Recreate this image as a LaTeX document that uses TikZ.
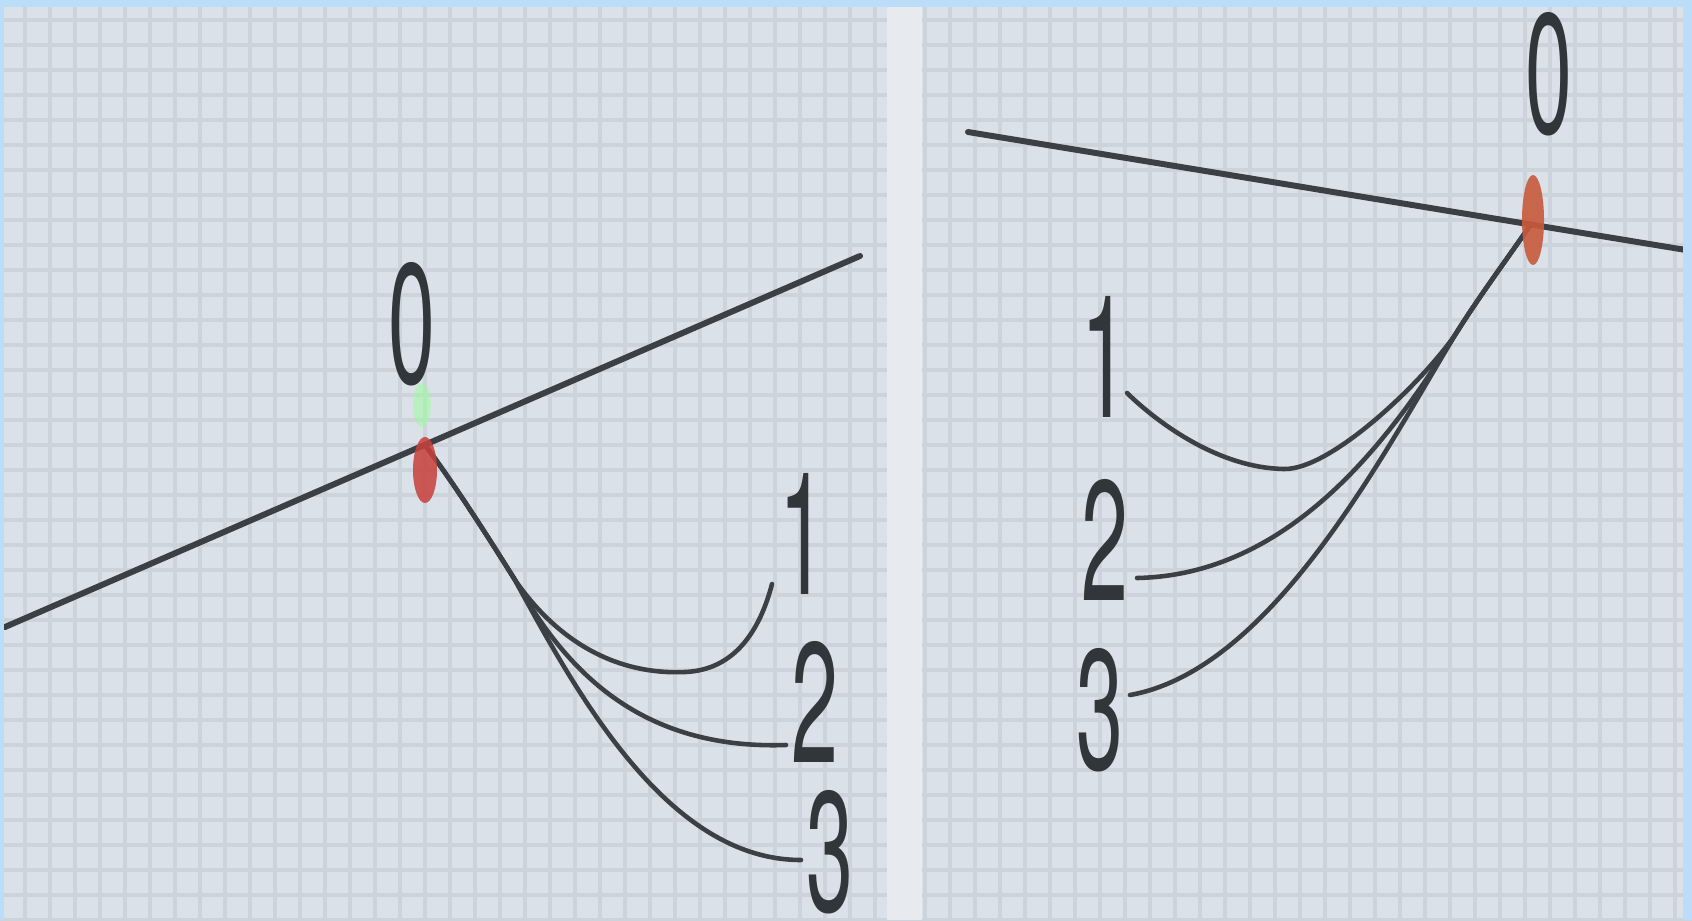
\documentclass[tikz,border=0pt]{standalone}
\usepackage{fontspec}
\setmainfont{TeX Gyre Heros}
\definecolor{paper}{HTML}{DBE1E8}
\definecolor{gridline}{HTML}{CDD3DB}
\definecolor{frame}{HTML}{BCDDF8}
\definecolor{divider}{HTML}{E7EBEF}
\definecolor{ink}{HTML}{3A4046}
\definecolor{markL}{HTML}{C8403A}
\definecolor{markR}{HTML}{C85A3C}

\begin{document}
\begin{tikzpicture}[
    axis/.style={draw=ink, line width=1.7pt, line cap=round},
    curve/.style={draw=ink, line width=1.3pt, line cap=round},
    digit/.style={font=\fontsize{30}{30}\selectfont, text=ink!85!black, xscale=0.8, yscale=1.62, inner sep=0pt}
]
\useasboundingbox (0,0) rectangle (16.92,9.20);
\clip (0,0) rectangle (16.92,9.20);
% graph paper
\fill[paper] (0,0) rectangle (16.92,9.20);
\draw[gridline, line width=1.1pt, step=0.25] (0,0) grid (16.92,9.20);
\fill[divider] (8.87,0) rectangle (9.22,9.20);

% left panel
\coordinate (lo) at (4.25,4.75);
\coordinate (lsplit) at (5.15,3.40);
\coordinate (la) at (0.05,2.93);
\coordinate (lb) at (8.60,6.64);
\coordinate (lend1) at (7.72,3.36);
\coordinate (lend2) at (7.86,1.75);
\coordinate (lend3) at (8.01,0.60);
\node[digit] (lzero) at (4.12,5.96) {0};
\node[digit] (lone) at (8.03,3.86) {1};
\node[digit] (ltwo) at (8.15,2.18) {2};
\node[digit] (lthree) at (8.30,0.68) {3};
\draw[axis] (la) -- (lb);
\draw[curve] (lo) .. controls (4.55,4.35) and (4.9,3.8) .. (lsplit) .. controls (5.6,2.75) and (6.2,2.45) .. (6.85,2.48) .. controls (7.35,2.5) and (7.6,2.9) .. (lend1);
\draw[curve] (lo) .. controls (4.55,4.35) and (4.9,3.8) .. (lsplit) .. controls (5.65,2.5) and (6.4,1.7) .. (lend2);
\draw[curve] (lo) .. controls (4.55,4.35) and (4.9,3.8) .. (lsplit) .. controls (5.8,2.2) and (6.7,0.6) .. (lend3);
\fill[green!40!white, opacity=0.5] (4.22,5.15) ellipse (0.09 and 0.22);
\fill[markL, opacity=0.85] (4.25,4.50) ellipse (0.12 and 0.33);

% right panel
\coordinate (ro) at (15.31,6.96);
\coordinate (rsplit) at (14.55,5.85);
\coordinate (ra) at (9.68,7.88);
\coordinate (rb) at (16.92,6.69);
\coordinate (rend1) at (11.27,5.27);
\coordinate (rend2) at (11.37,3.42);
\coordinate (rend3) at (11.30,2.25);
\node[digit] (rzero) at (15.49,8.46) {0};
\node[digit] (rone) at (11.05,5.63) {1};
\node[digit] (rtwo) at (11.05,3.80) {2};
\node[digit] (rthree) at (11.00,2.10) {3};
\draw[axis] (ra) -- (rb);
\draw[curve] (ro) .. controls (15.1,6.65) and (14.8,6.25) .. (rsplit) .. controls (14.2,5.35) and (13.3,4.5) .. (12.84,4.51) .. controls (12.2,4.52) and (11.6,4.95) .. (rend1);
\draw[curve] (ro) .. controls (15.1,6.65) and (14.8,6.25) .. (rsplit) .. controls (13.9,4.8) and (12.9,3.45) .. (rend2);
\draw[curve] (ro) .. controls (15.1,6.65) and (14.8,6.25) .. (rsplit) .. controls (13.8,4.6) and (12.7,2.5) .. (rend3);
\fill[markR, opacity=0.9] (15.33,7.00) ellipse (0.11 and 0.45);

% screen frame
\fill[frame] (0,9.13) rectangle (16.92,9.20);
\fill[frame] (0,0) rectangle (0.04,9.20);
\fill[frame] (16.83,0) rectangle (16.92,9.20);
\end{tikzpicture}
\end{document}
